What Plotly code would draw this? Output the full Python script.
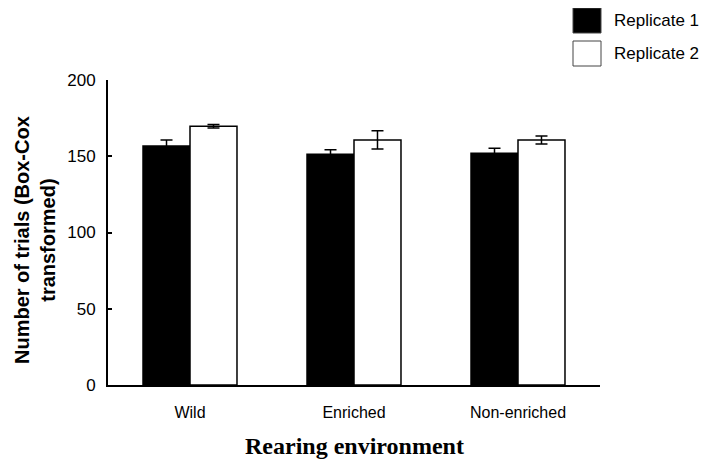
import plotly.graph_objects as go

categories = ["Wild", "Enriched", "Non-enriched"]
rep1_values = [156.7, 151.3, 151.9]
rep1_errors = [4.0, 3.0, 3.3]
rep2_values = [169.7, 160.7, 160.7]
rep2_errors = [1.2, 6.0, 2.6]
series_names = ["Replicate 1", "Replicate 2"]
y_ticks = [0, 50, 100, 150, 200]

fig = go.Figure()
fig.add_trace(go.Bar(
    x=categories, y=rep1_values, name=series_names[0],
    marker=dict(color="black", line=dict(color="black", width=1.5)),
    error_y=dict(type="data", array=rep1_errors, color="black", thickness=1.5, width=6),
    showlegend=False,
))
fig.add_trace(go.Bar(
    x=categories, y=rep2_values, name=series_names[1],
    marker=dict(color="white", line=dict(color="black", width=1.5)),
    error_y=dict(type="data", array=rep2_errors, color="black", thickness=1.5, width=6),
    showlegend=False,
))

OFF = 8  # default page body margin
W, H = 709 - OFF, 464 - OFF
L, T = 108 - OFF, 80 - OFF
pw, ph = 492, 305
R = W - L - pw
B = H - T - ph

def px_x(p):
    return (p - OFF - L) / pw

def px_y(p):
    return (H - B - (p - OFF)) / ph

# custom legend
legend_y = [20.5, 53.5]
fills = ["black", "white"]
for i, name in enumerate(series_names):
    fig.add_shape(type="rect", xref="paper", yref="paper",
                  x0=px_x(573), x1=px_x(601),
                  y0=px_y(legend_y[i] + 12.5), y1=px_y(legend_y[i] - 12.5),
                  fillcolor=fills[i], line=dict(color="#444", width=1))
    fig.add_annotation(text=name, xref="paper", yref="paper",
                       x=px_x(612), y=px_y(legend_y[i]), xanchor="left", yanchor="middle",
                       showarrow=False, font=dict(family="Arial", size=17, color="black"))

fig.add_annotation(text="<b>Number of trials (Box-Cox<br>transformed)</b>", xref="paper", yref="paper",
                   x=px_x(35), y=px_y(240), textangle=-90, showarrow=False,
                   xanchor="center", yanchor="middle",
                   font=dict(family="Arial", size=20, color="black"))
fig.add_annotation(text="<b>Rearing environment</b>", xref="paper", yref="paper",
                   x=0.5, y=px_y(446), showarrow=False, xanchor="center", yanchor="middle",
                   font=dict(family="Liberation Serif, Times New Roman, serif", size=24, color="black"))

fig.update_layout(
    width=W, height=H,
    margin=dict(l=L, r=R, t=T, b=B),
    paper_bgcolor="white", plot_bgcolor="white",
    barmode="group", bargap=0.427, bargroupgap=0,
    font=dict(family="Arial", size=16, color="black"),
)
fig.update_xaxes(showline=True, linecolor="black", linewidth=2, ticks="",
                 showgrid=False, range=[-0.5, 2.5], tickfont=dict(size=16),
                 ticklabelstandoff=12)
fig.update_yaxes(showline=True, linecolor="black", linewidth=2, ticks="inside", ticklen=4,
                 tickwidth=2, tickcolor="black", showgrid=False, zeroline=False,
                 range=[0, 200], tickvals=y_ticks, tickfont=dict(size=17),
                 ticklabelstandoff=7)

fig.write_html("out.html")
